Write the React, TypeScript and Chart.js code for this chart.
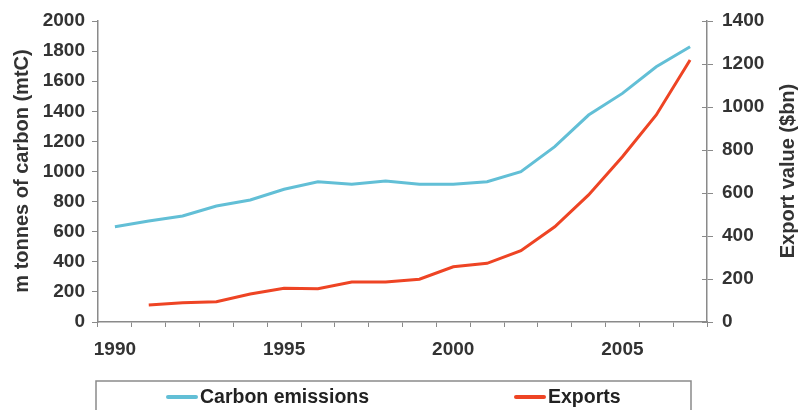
import React, { useEffect, useRef } from "react";
import { Chart, registerables } from "chart.js";

Chart.register(...registerables);

const years = ["1990","1991","1992","1993","1994","1995","1996","1997","1998","1999","2000","2001","2002","2003","2004","2005","2006","2007"];
const shownYears = ["1990", "1995", "2000", "2005"];
const carbonEmissions = [633, 671, 704, 771, 811, 882, 932, 915, 937, 915, 915, 932, 999, 1165, 1375, 1519, 1696, 1829];
const exportsValue = [null, 79, 90, 94, 130, 157, 155, 186, 186, 199, 257, 273, 332, 443, 591, 769, 963, 1219];
const seriesNames = ["Carbon emissions", "Exports"];
const leftTitle = "m tonnes of carbon (mtC)";
const rightTitle = "Export value ($bn)";

const W = 799;
const H = 410;
const AXIS = "#8a8a8a";
const TXT = "#333333";
const FONT = "'Liberation Sans', Arial, sans-serif";

const overlay = {
  id: "overlay",
  afterDraw(chart: any) {
    const ctx = chart.ctx;
    const area = chart.chartArea;
    ctx.save();
    ctx.fillStyle = TXT;
    ctx.textAlign = "center";
    ctx.textBaseline = "middle";
    ctx.font = `bold 20px ${FONT}`;
    const cy = 171;
    ctx.save();
    ctx.translate(22, cy);
    ctx.rotate(-Math.PI / 2);
    ctx.fillText(leftTitle, 0, 0);
    ctx.restore();
    ctx.save();
    ctx.translate(788, cy);
    ctx.rotate(-Math.PI / 2);
    ctx.fillText(rightTitle, 0, 0);
    ctx.restore();

    // right axis inner tick marks
    const ry = chart.scales.y1;
    ctx.strokeStyle = AXIS;
    ctx.lineWidth = 1;
    ry.ticks.forEach((t: any) => {
      const y = Math.round(ry.getPixelForValue(t.value)) + 0.5;
      ctx.beginPath();
      ctx.moveTo(area.right - 5, y);
      ctx.lineTo(area.right, y);
      ctx.stroke();
    });

    // legend box
    ctx.strokeStyle = "#8a8a8a";
    ctx.lineWidth = 1.5;
    ctx.strokeRect(96, 381, 595, 60);
    const starts = [168, 516];
    ctx.textAlign = "left";
    ctx.font = `bold 19.5px ${FONT}`;
    chart.data.datasets.forEach((ds: any, i: number) => {
      const x = starts[i];
      const y = 397;
      ctx.strokeStyle = ds.borderColor;
      ctx.lineWidth = 4;
      ctx.lineCap = "round";
      ctx.beginPath();
      ctx.moveTo(x, y);
      ctx.lineTo(x + 28, y);
      ctx.stroke();
      ctx.fillStyle = "#222";
      ctx.fillText(ds.label, x + 32, y + 1);
    });
    ctx.restore();
  },
};

export default function App() {
  const ref = useRef<HTMLCanvasElement | null>(null);
  useEffect(() => {
    document.body.style.margin = "0";
    const canvas = ref.current!;
    const chart = new Chart(canvas, {
      type: "line",
      data: {
        labels: years,
        datasets: [
          {
            label: seriesNames[0],
            data: carbonEmissions,
            borderColor: "#62bfd6",
            backgroundColor: "#62bfd6",
            borderWidth: 3,
            pointRadius: 0,
            tension: 0,
            yAxisID: "y",
          },
          {
            label: seriesNames[1],
            data: exportsValue,
            borderColor: "#ee4424",
            backgroundColor: "#ee4424",
            borderWidth: 3,
            pointRadius: 0,
            tension: 0,
            yAxisID: "y1",
          },
        ],
      },
      options: {
        responsive: false,
        animation: false,
        devicePixelRatio: 1,
        layout: { padding: { top: 21, left: 0, right: 0, bottom: 0 } },
        plugins: { legend: { display: false }, tooltip: { enabled: false } },
        scales: {
          x: {
            type: "category",
            offset: true,
            grid: { offset: true, drawOnChartArea: false, drawTicks: true, tickLength: 5, color: AXIS },
            border: { display: true, color: AXIS, width: 1.5 },
            ticks: {
              autoSkip: false,
              maxRotation: 0,
              padding: 11,
              color: TXT,
              font: { family: FONT, size: 19, weight: "bold" },
              callback: (_v: any, i: number) => (shownYears.includes(years[i]) ? years[i] : ""),
            },
            afterFit: (s: any) => { s.height = H - 322; },
          },
          y: {
            position: "left",
            min: 0,
            max: 2000,
            grid: { drawOnChartArea: false, drawTicks: true, tickLength: 6, color: AXIS },
            border: { display: true, color: AXIS, width: 1.5 },
            ticks: { stepSize: 200, padding: 7, color: TXT, font: { family: FONT, size: 19, weight: "bold" }, callback: (v: any) => String(v) },
            afterFit: (s: any) => { s.width = 98; },
          },
          y1: {
            position: "right",
            min: 0,
            max: 1400,
            grid: { drawOnChartArea: false, drawTicks: true, tickLength: 6, color: AXIS },
            border: { display: true, color: AXIS, width: 1.5 },
            ticks: { stepSize: 200, padding: 9, color: TXT, font: { family: FONT, size: 19, weight: "bold" }, callback: (v: any) => String(v) },
            afterFit: (s: any) => { s.width = W - 707; },
          },
        },
      },
      plugins: [overlay],
    });
    return () => chart.destroy();
  }, []);
  return (
    <div style={{ width: W, height: H, background: "#fff" }}>
      <canvas ref={ref} width={W} height={H} style={{ display: "block" }} />
    </div>
  );
}
